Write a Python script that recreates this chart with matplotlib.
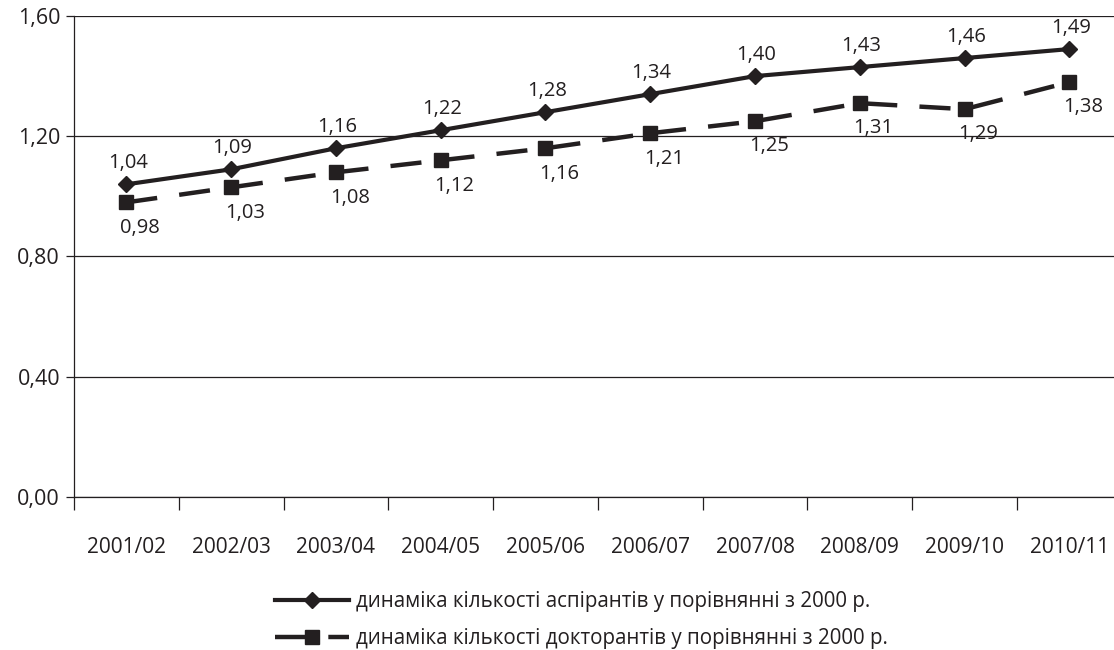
import numpy as np
import matplotlib
matplotlib.use('Agg')
import matplotlib.pyplot as plt

plt.rcParams['font.family'] = ['Open Sans', 'DejaVu Sans']

years = ['2001/02', '2002/03', '2003/04', '2004/05', '2005/06',
         '2006/07', '2007/08', '2008/09', '2009/10', '2010/11']
aspirants = [1.04, 1.09, 1.16, 1.22, 1.28, 1.34, 1.40, 1.43, 1.46, 1.49]
doctorants = [0.98, 1.03, 1.08, 1.12, 1.16, 1.21, 1.25, 1.31, 1.29, 1.38]
label1 = 'динаміка кількості аспірантів у порівнянні з 2000 р.'
label2 = 'динаміка кількості докторантів у порівнянні з 2000 р.'

ink = '#231f20'
fig = plt.figure(figsize=(11.14, 6.5), dpi=100)
ax = fig.add_axes([0.0664, 0.2354, 0.9406, 0.74])

x = np.arange(len(years))
ax.plot(x, aspirants, color=ink, linewidth=3, marker='D', markersize=8.5,
        label=label1)
ax.plot(x, doctorants, color=ink, linewidth=3.2, linestyle=(0, (7, 5)),
        marker='s', markersize=9.5, label=label2)

for i, v in enumerate(aspirants):
    ax.annotate(f'{v:.2f}'.replace('.', ','), (i, v), xytext=(1, 8),
                textcoords='offset points', ha='center', va='bottom', fontsize=14.5,
                color=ink)
for i, v in enumerate(doctorants):
    ax.annotate(f'{v:.2f}'.replace('.', ','), (i, v), xytext=(10, -11),
                textcoords='offset points', ha='center', va='top', fontsize=14.5,
                color=ink)

ax.set_xlim(-0.5, len(years) - 0.5)
ax.set_ylim(0, 1.6)
ax.set_yticks([0, 0.4, 0.8, 1.2, 1.6])
ax.set_yticklabels(['0,00', '0,40', '0,80', '1,20', '1,60'], fontsize=15.5)
ax.yaxis.grid(True, color=ink, linewidth=0.9)
ax.tick_params(axis='y', length=6, width=0.9, color=ink, labelcolor=ink, pad=4)

ax.set_xticks(x)
ax.set_xticklabels(years, fontsize=15, color=ink)
ax.tick_params(axis='x', length=0, pad=29)
ax.set_xticks(np.arange(len(years)) - 0.5, minor=True)
ax.tick_params(axis='x', which='minor', length=9, width=0.9, color=ink,
               direction='out')

for s in ['top', 'right']:
    ax.spines[s].set_visible(False)
for s in ['left', 'bottom']:
    ax.spines[s].set_color(ink)
    ax.spines[s].set_linewidth(0.9)

fig.legend(loc='center', bbox_to_anchor=(0.522, 0.046), frameon=False,
           fontsize=14.8, handlelength=3.6, handletextpad=0.3, labelspacing=0.75,
           ncol=1, labelcolor=ink)

fig.savefig('out.png', dpi=100)
